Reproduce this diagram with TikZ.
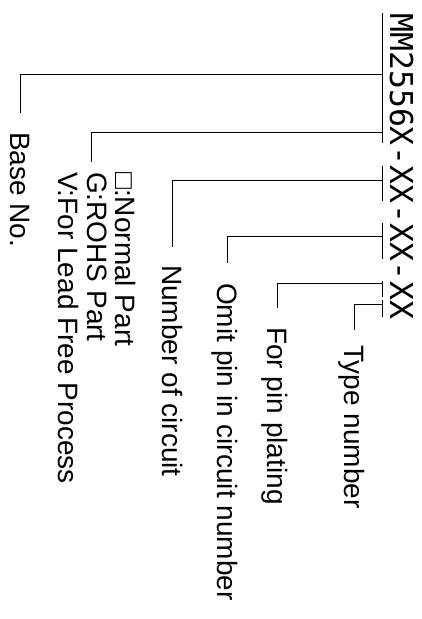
\documentclass[tikz,border=0pt]{standalone}
\usepackage{fontspec}
\setmainfont{Liberation Sans}
\newfontfamily\mainmono{DejaVu Sans Mono}
\usetikzlibrary{calc}
\begin{document}
\begin{tikzpicture}[x=1pt,y=-1pt,
  lbl/.style={rotate=-90, inner sep=0pt, text height=20pt, text depth=0pt, anchor=west,
    font=\fontsize{28}{28.5}\selectfont},
  code/.style={rotate=-90, inner sep=0pt, anchor=base west,
    font=\mainmono\fontsize{31.5}{32}\selectfont},
  ln/.style={line width=0.9pt, draw=black}]
\useasboundingbox (0,0) rectangle (421,619);
% part number, one node per group
\node[code] (g1) at (390,13) {MM2556X};
\node[code] (d1) at (g1.base east) {-};
\node[code] (g2) at (d1.base east) {XX};
\node[code] (d2) at (g2.base east) {-};
\node[code] (g3) at (d2.base east) {XX};
\node[code] (d3) at (g3.base east) {-};
\node[code] (g4) at (d3.base east) {X};
\node[code] (g5) at (g4.base east) {X};
% underline segments
\foreach \g in {g1,g2,g3,g4,g5}{
  \draw[ln, shorten >=3pt] ([xshift=-8pt]\g.base west) -- ([xshift=-8pt]\g.base east);
}
% junctions on the underline
\coordinate (j1) at (382,74);
\coordinate (j2) at (382,132);
\coordinate (j3) at (382,180);
\coordinate (j4) at (382,236);
\coordinate (j5) at (382,283);
\coordinate (j6) at (382,304);
% labels
\node[lbl] (base) at (20,132) {Base No.};
\node[rotate=-90, inner sep=0pt, align=left, anchor=north west,
  font=\fontsize{28}{28.5}\selectfont] (blk) at (136,172)
  {□:Normal Part\\G:ROHS Part\\V:For Lead Free Process};
\node[lbl] (num) at (172,265) {Number of circuit};
\node[lbl] (omit) at (227,283) {Omit pin in circuit number};
\node[lbl] (plat) at (277,327) {For pin plating};
\node[lbl] (type) at (354,345) {Type number};
% connectors
\draw[ln, shorten >=19pt] (j1) -| (base.west);
\draw[ln, shorten >=10pt] (j2) -| ($(blk.west)+(-6,0)$);
\draw[ln, shorten >=18pt] (j3) -| (num.west);
\draw[ln, shorten >=20pt] (j4) -| (omit.west);
\draw[ln, shorten >=19pt] (j5) -| (plat.west);
\draw[ln, shorten >=15pt] (j6) -| (type.west);
\end{tikzpicture}
\end{document}
